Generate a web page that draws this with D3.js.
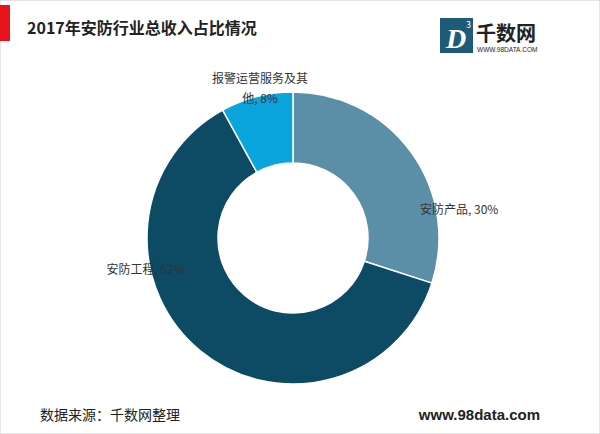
<!DOCTYPE html><html><head><meta charset="utf-8"><script src="https://cdn.jsdelivr.net/npm/d3@7"></script>
<style>body{margin:0;background:#fff;font-family:"Noto Sans CJK SC","Noto Sans",sans-serif}</style></head><body><svg id="c" width="600" height="434"></svg><script>
const categories=["安防产品","安防工程","报警运营服务及其他"];
const values=[30,62,8];
const colors=["#5b8fa8","#0d4a63","#0aa5dc"];
const svg=d3.select("#c");
svg.append("rect").attr("x",0).attr("y",0).attr("width",600).attr("height",434).attr("fill","#fff").attr("stroke","#ccc");
svg.append("rect").attr("x",0).attr("y",5).attr("width",10).attr("height",36).attr("fill","#e8141b");
svg.append("text").attr("x",27).attr("y",34).attr("font-size",16).attr("font-weight","bold").attr("fill","#222").text("2017年安防行业总收入占比情况");
// logo
const lg=svg.append("g");
lg.append("rect").attr("x",440).attr("y",18).attr("width",33).attr("height",35).attr("fill","#1d5b78");
lg.append("text").attr("x",456).attr("y",48).attr("text-anchor","middle").attr("font-size",28).attr("font-style","italic").attr("font-weight","bold").attr("fill","#fff").attr("font-family","Liberation Serif").text("D");
lg.append("text").attr("x",466).attr("y",28).attr("font-size",9).attr("fill","#fff").text("3");
lg.append("text").attr("x",476).attr("y",41).attr("font-size",20).attr("font-weight","bold").attr("fill","#222").text("千数网");
lg.append("text").attr("x",477).attr("y",52).attr("font-size",6.5).attr("fill","#222").attr("font-family","Liberation Sans").text("WWW.98DATA.COM");
const cx=293,cy=238;
const pie=d3.pie().sort(null).value(d=>d)(values);
const arc=d3.arc().innerRadius(75).outerRadius(146);
const g=svg.append("g").attr("transform",`translate(${cx},${cy})`);
g.selectAll("path").data(pie).join("path").attr("d",arc).attr("fill",(d,i)=>colors[i]).attr("stroke","#fff").attr("stroke-width",1.5);
const lab=[{x:420,y:214,a:"start",t:[categories[0]+", "+values[0]+"%"]},
{x:185,y:274,a:"end",t:[categories[1]+", "+values[1]+"%"]},
{x:260,y:83,a:"middle",t:["报警运营服务及其","他, "+values[2]+"%"]}];
lab.forEach(l=>{const t=svg.append("text").attr("x",l.x).attr("y",l.y).attr("text-anchor",l.a).attr("font-size",12).attr("fill","#333");
l.t.forEach((s,i)=>t.append("tspan").attr("x",l.x).attr("dy",i?20:0).text(s));});
svg.append("text").attr("x",40).attr("y",420).attr("font-size",14).attr("fill","#222").text("数据来源：千数网整理");
svg.append("text").attr("x",540).attr("y",420).attr("text-anchor","end").attr("font-size",15).attr("font-weight","bold").attr("fill","#222").attr("font-family","Liberation Sans").text("www.98data.com");
</script></body></html>
